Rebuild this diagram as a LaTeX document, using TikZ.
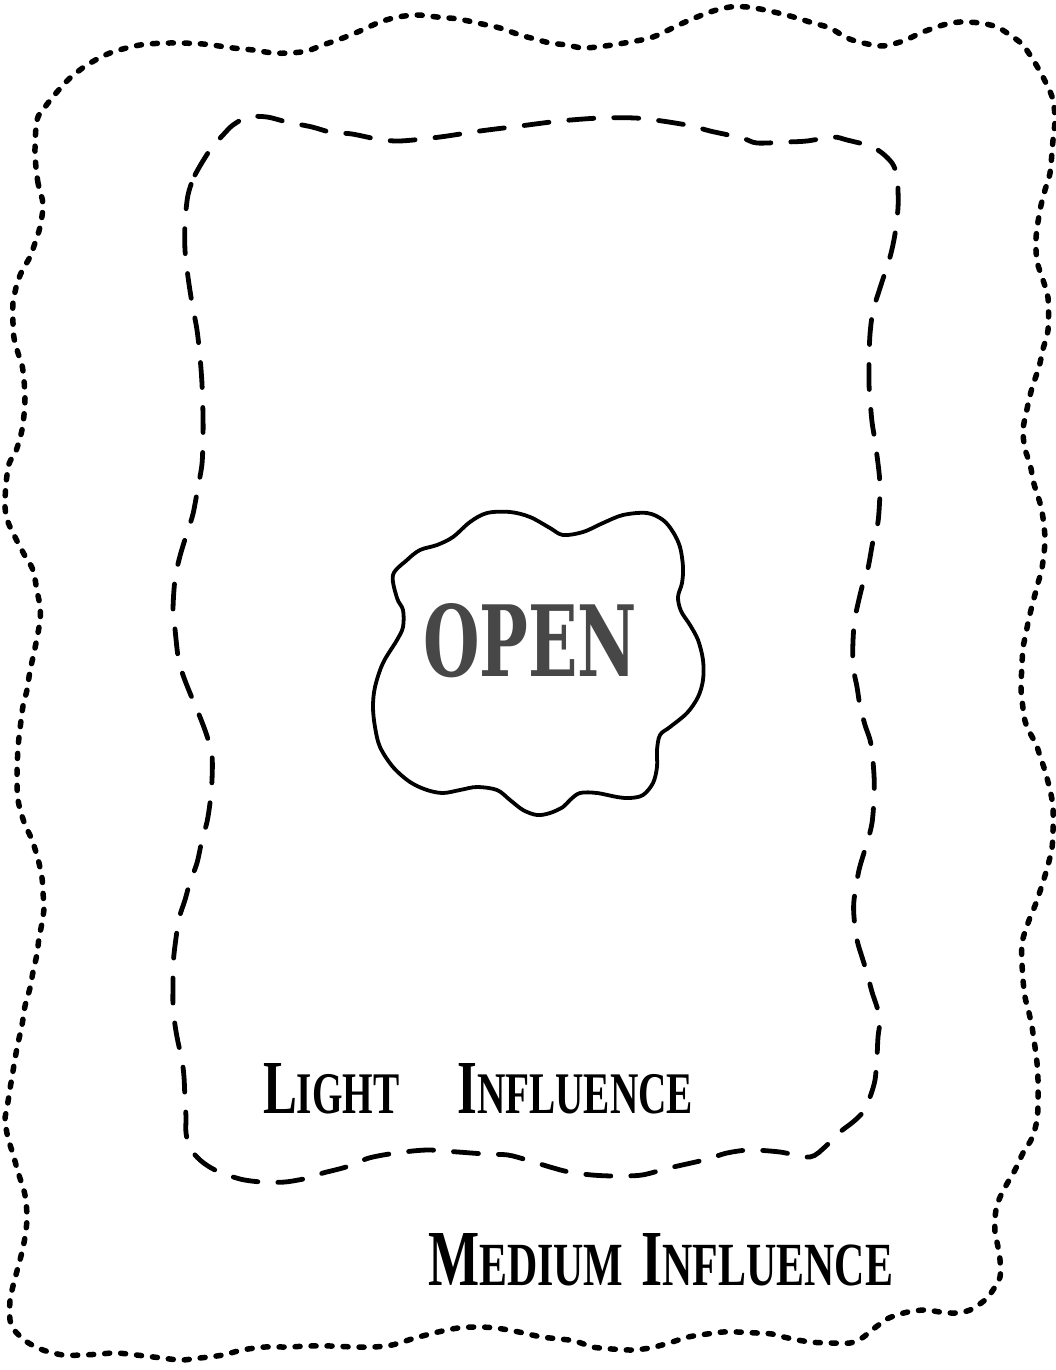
\documentclass[tikz,border=0pt]{standalone}
\usepackage{fontspec}
\newfontfamily\openfont{DejaVu Serif}
\newfontfamily\handfont{Liberation Serif}
\newcommand{\capbig}[1]{{\fontsize{66}{66}\selectfont #1}}
\newcommand{\capsml}[1]{{\fontsize{51}{51}\selectfont #1}}
\begin{document}
\begin{tikzpicture}[x=1pt,y=-1pt,
  outerline/.style={line width=5.5pt, line cap=round, dash pattern=on 5pt off 11pt},
  innerline/.style={line width=4.8pt, line cap=round, dash pattern=on 25pt off 20pt},
  cloudline/.style={line width=3.8pt, line join=round},
  lbl/.style={inner sep=0pt, outer sep=0pt, anchor=base west}]
\fill[white] (0,0) rectangle (1056,1370);
\useasboundingbox (0,0) rectangle (1056,1370);
% outer dotted boundary (medium influence)
\draw[outerline] plot[smooth cycle, tension=0.5] coordinates {
(43,204) (38,183) (35,153) (37,120) (45,107) (57,92) (70,78) (87,65) (110,53) (140,45) (170,43) (203,44) (233,48) (253,50) (273,53) (290,53) (307,51) (323,45) (343,38) (360,31) (380,22) (398,17) (417,15) (437,17) (458,19) (482,24) (500,28) (520,35) (535,39) (550,43) (567,45) (583,48) (605,46) (630,42) (653,37) (683,23) (710,12) (730,7) (747,7) (765,10) (790,16) (813,23) (830,28) (847,38) (863,43) (883,46) (903,41) (923,32) (943,25) (960,22) (980,23) (997,27) (1010,35) (1022,44) (1030,55) (1038,68) (1047,85) (1053,100) (1055,120) (1053,140) (1050,173) (1045,190) (1040,210) (1036,238) (1037,261) (1043,280) (1048,298) (1048,330) (1043,349) (1039,367) (1032,388) (1027,409) (1023,430) (1025,449) (1030,464) (1034,484) (1040,503) (1043,518) (1045,541) (1042,568) (1038,583) (1033,602) (1029,618) (1026,633) (1023,648) (1022,664) (1021,687) (1022,700) (1025,721) (1030,733) (1036,744) (1040,756) (1045,771) (1050,790) (1053,807) (1053,830) (1052,848) (1048,865) (1043,882) (1036,903) (1028,923) (1022,943) (1022,963) (1023,980) (1025,997) (1029,1013) (1032,1027) (1035,1047) (1037,1063) (1038,1080) (1038,1103) (1037,1120) (1032,1138) (1023,1153) (1015,1170) (1008,1182) (1002,1193) (997,1205) (995,1218) (995,1232) (998,1247) (1000,1260) (1000,1277) (993,1290) (985,1300) (970,1310) (955,1313) (940,1312) (927,1310) (913,1311) (900,1314) (887,1319) (872,1330) (862,1338) (850,1343) (832,1343) (810,1342) (788,1338) (772,1334) (757,1333) (738,1332) (723,1332) (707,1334) (688,1337) (669,1343) (650,1348) (631,1350) (612,1349) (592,1347) (581,1343) (569,1340) (542,1337) (519,1332) (496,1328) (477,1327) (458,1328) (438,1332) (415,1338) (392,1345) (373,1347) (354,1347) (331,1346) (308,1346) (288,1347) (265,1347) (242,1350) (223,1355) (200,1358) (181,1360) (162,1358) (145,1356) (117,1353) (100,1354) (83,1355) (63,1355) (43,1350) (27,1342) (15,1331) (10,1320) (10,1301) (13,1286) (17,1271) (22,1252) (25,1237) (27,1218) (25,1195) (18,1172) (13,1154) (8,1138) (5,1120) (7,1108) (10,1089) (13,1071) (17,1048) (22,1025) (25,1006) (30,988) (33,972) (37,954) (39,938) (42,923) (44,908) (43,893) (42,878) (38,859) (32,840) (24,822) (18,800) (17,775) (18,748) (20,729) (23,706) (27,690) (30,671) (35,648) (40,621) (40,606) (37,591) (33,570) (25,556) (15,537) (8,522) (5,507) (6,484) (9,464) (15,453) (18,445) (22,430) (24,415) (25,399) (24,380) (22,365) (18,353) (14,338) (13,323) (13,303) (17,284) (22,271) (30,257) (34,246) (40,227)};
% inner dashed boundary (light influence)
\draw[innerline] plot[smooth cycle, tension=0.5] coordinates {
(188,195) (195,175) (210,150) (223,135) (233,125) (248,117) (267,117) (287,122) (312,127) (330,132) (352,134) (377,139) (400,141) (440,137) (480,131) (520,126) (560,121) (600,118) (635,118) (662,121) (692,126) (710,131) (742,138) (757,143) (787,142) (807,141) (833,137) (847,140) (870,146) (882,153) (892,163) (897,175) (898,190) (898,208) (895,234) (890,257) (880,288) (873,311) (870,334) (869,361) (869,384) (870,399) (872,422) (875,441) (879,472) (880,491) (878,522) (873,541) (868,568) (862,587) (855,618) (853,641) (853,666) (857,687) (860,706) (865,725) (871,744) (874,775) (874,798) (872,823) (867,843) (859,870) (854,900) (854,917) (857,940) (862,957) (867,973) (872,992) (877,1007) (880,1020) (878,1037) (877,1057) (875,1080) (870,1097) (863,1112) (853,1122) (840,1132) (826,1146) (810,1157) (780,1152) (750,1150) (727,1153) (704,1160) (669,1168) (642,1175) (615,1176) (592,1175) (569,1172) (550,1167) (527,1160) (508,1155) (485,1154) (458,1152) (427,1150) (396,1153) (369,1158) (346,1167) (323,1173) (308,1178) (285,1182) (262,1182) (240,1179) (215,1170) (200,1160) (190,1148) (186,1133) (186,1117) (185,1100) (184,1077) (182,1060) (178,1042) (175,1025) (173,1005) (173,984) (173,969) (174,954) (177,931) (180,915) (185,900) (190,882) (197,863) (202,840) (207,822) (210,803) (212,780) (212,756) (207,736) (200,717) (192,698) (183,675) (178,656) (175,629) (173,610) (175,579) (180,556) (187,533) (193,514) (198,487) (202,464) (203,438) (203,415) (202,384) (200,357) (197,330) (192,303) (188,277) (185,250) (185,223)};
% cloud around OPEN
\draw[cloudline] plot[smooth cycle, tension=0.55] coordinates {
(393,575) (407,560) (420,550) (437,545) (453,537) (470,522) (487,513) (510,512) (530,517) (550,528) (563,535) (583,532) (603,523) (623,515) (647,513) (663,520) (673,532) (680,547) (683,567) (682,583) (678,597) (681,611) (690,625) (698,640) (703,660) (703,680) (698,697) (687,713) (670,727) (660,735) (657,750) (657,767) (653,783) (643,795) (630,798) (617,797) (597,793) (580,793) (570,800) (563,807) (550,813) (537,815) (523,810) (510,800) (497,790) (477,787) (460,790) (443,793) (427,790) (410,782) (393,767) (380,747) (375,727) (373,707) (375,687) (383,663) (397,640) (403,627) (403,610) (397,598)};
\node[lbl, text=black!72] (open) at (423,676) {\resizebox{214pt}{73pt}{\openfont\bfseries OPEN}};
\node[lbl] (light) at (263,1113) {\resizebox{430pt}{50pt}{\handfont\bfseries\capbig{L}\capsml{IGHT}\hspace{75pt}\capbig{I}\capsml{NFLUENCE}}};
\node[lbl] (medium) at (428,1285) {\resizebox{465pt}{52pt}{\handfont\bfseries\capbig{M}\capsml{EDIUM}\hspace{22pt}\capbig{I}\capsml{NFLUENCE}}};
\end{tikzpicture}
\end{document}
